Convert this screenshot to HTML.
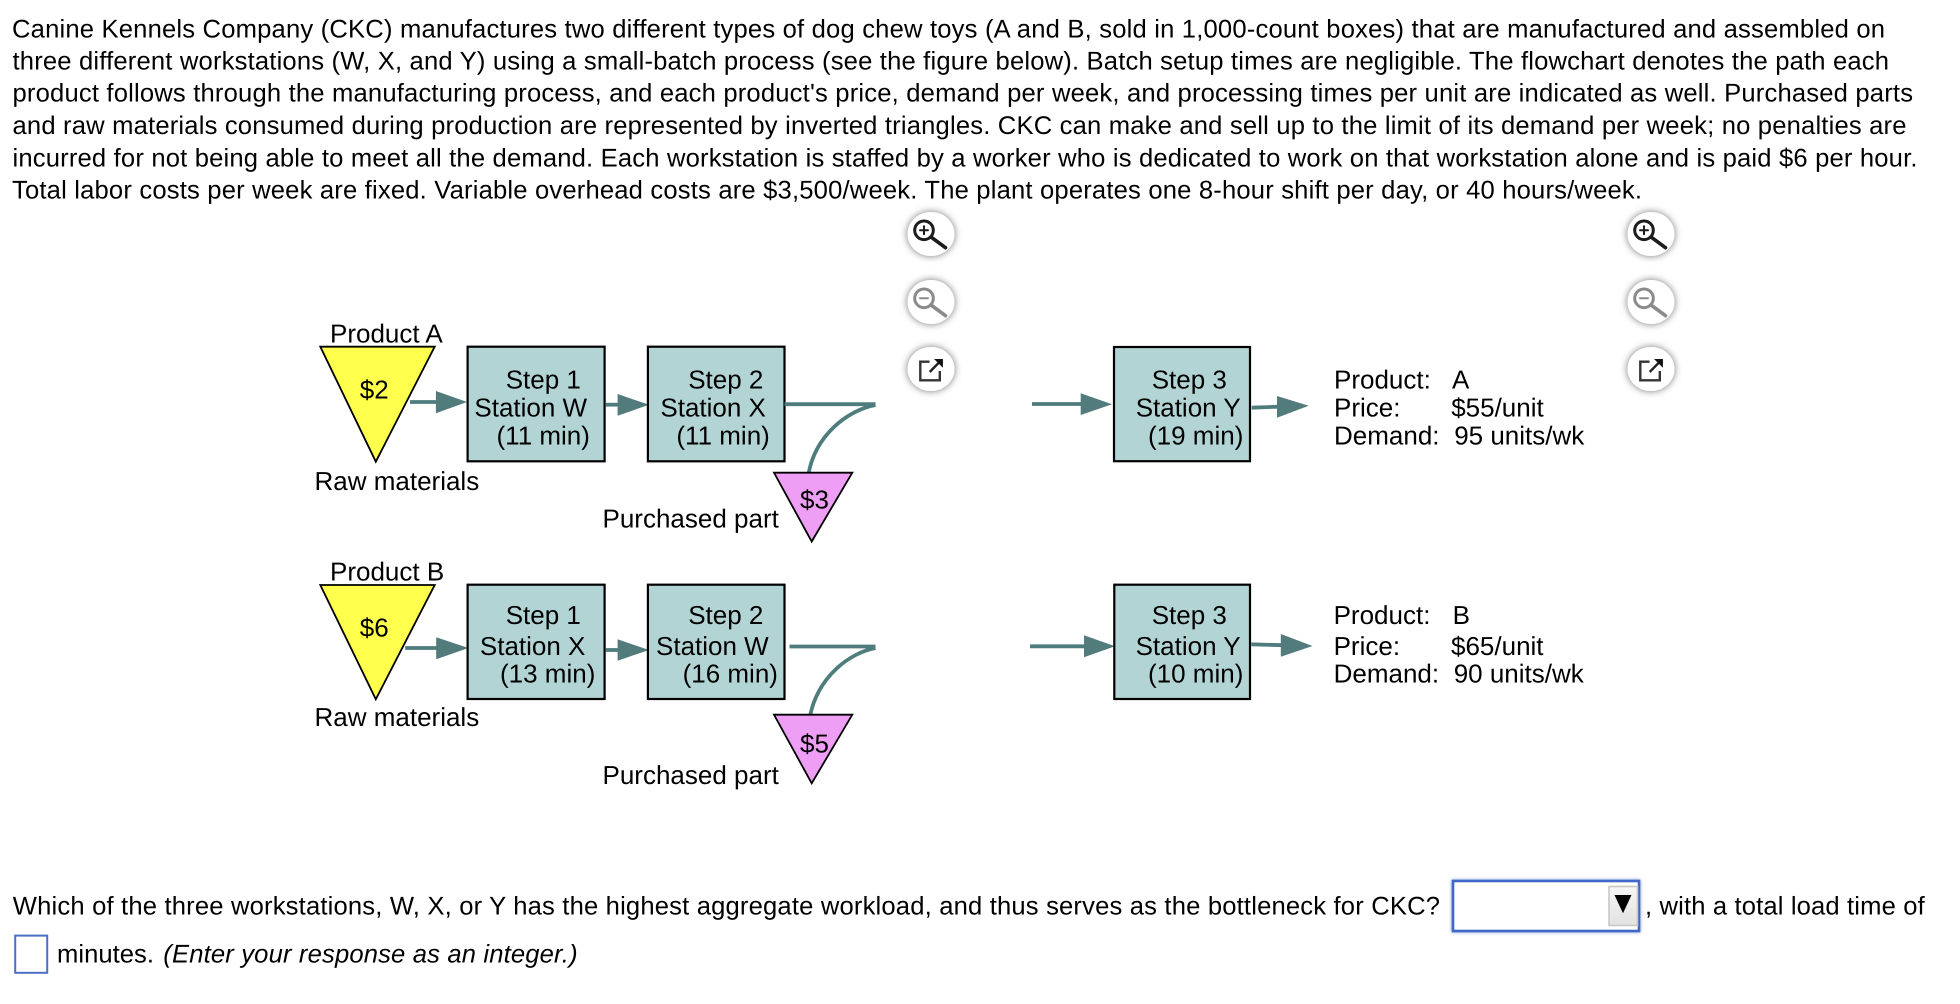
<!DOCTYPE html>
<html><head><meta charset="utf-8"><title>CKC workstation diagram</title>
<style>
html,body{margin:0;padding:0;background:#fff;width:1960px;height:1004px;overflow:hidden}
svg{display:block}
text{font-family:"Liberation Sans",Arial,sans-serif;font-size:25.6px;fill:#000;text-rendering:geometricPrecision}
.d{font-size:26px}
.box{fill:#b2d4d5;stroke:#000;stroke-width:2.2}
.y{fill:#ffff4d;stroke:#000;stroke-width:1.8}
.p{fill:#ee9ff5;stroke:#000;stroke-width:1.8}
.sh{fill:none;stroke:#4f7d7d;stroke-width:3.8}
.hd{fill:#527c7c}
</style></head><body>
<svg width="1960" height="1004" viewBox="0 0 1960 1004" xmlns="http://www.w3.org/2000/svg">
<defs>
<filter id="ds" x="-50%" y="-50%" width="200%" height="200%"><feDropShadow dx="0" dy="0" stdDeviation="3.6" flood-color="#000" flood-opacity=".55"/></filter>
<filter id="gl" x="-10%" y="-30%" width="120%" height="160%"><feDropShadow dx="0" dy="0" stdDeviation="1.6" flood-color="#4267c7" flood-opacity=".7"/></filter>
<linearGradient id="btn" x1="0" y1="0" x2="0" y2="1"><stop offset="0" stop-color="#f6f6f6"/><stop offset="1" stop-color="#e2e2e2"/></linearGradient>
<g id="ip"><ellipse rx="23.5" ry="22" fill="#fff" filter="url(#ds)"/><g fill="none" stroke="#1c1c1c" stroke-linecap="round"><circle cx="-7" cy="-3.7" r="9.3" stroke-width="3"/><path d="M0 3 14.5 13.7" stroke-width="3.6"/><path d="M-11-3.7H-3M-7-7.7V.3" stroke-width="2"/></g></g>
<g id="im"><ellipse rx="23.5" ry="22" fill="#fff" filter="url(#ds)"/><g fill="none" stroke="#8a8a8a" stroke-linecap="round"><circle cx="-7" cy="-3.7" r="9.3" stroke-width="3"/><path d="M0 3 14.5 13.7" stroke-width="3.6"/><path d="M-11-3.7H-3" stroke-width="2"/></g></g>
<g id="ie"><ellipse rx="23.5" ry="22" fill="#fff" filter="url(#ds)"/><path d="M-1.5-7.3H-10.7V11.3H8.8V2" fill="none" stroke="#333" stroke-width="2.4"/><path d="M-1.3 3 8-6.5" fill="none" stroke="#222" stroke-width="2.4"/><path d="M3-10H11.9V-1.2Z" fill="#111"/></g>
</defs>

<text x="12" y="37.3" textLength="1873">Canine Kennels Company (CKC) manufactures two different types of dog chew toys (A and B, sold in 1,000-count boxes) that are manufactured and assembled on</text>
<text x="12.5" y="69.3" textLength="1876.5">three different workstations (W, X, and Y) using a small-batch process (see the figure below). Batch setup times are negligible. The flowchart denotes the path each</text>
<text x="12.5" y="101.7" textLength="1900.5">product follows through the manufacturing process, and each product's price, demand per week, and processing times per unit are indicated as well. Purchased parts</text>
<text x="12.5" y="134" textLength="1894">and raw materials consumed during production are represented by inverted triangles. CKC can make and sell up to the limit of its demand per week; no penalties are</text>
<text x="12.5" y="166.7" textLength="1905">incurred for not being able to meet all the demand. Each workstation is staffed by a worker who is dedicated to work on that workstation alone and is paid $6 per hour.</text>
<text x="12" y="198.7" textLength="1630">Total labor costs per week are fixed. Variable overhead costs are $3,500/week. The plant operates one 8-hour shift per day, or 40 hours/week.</text>

<use href="#ip" x="931" y="234"/><use href="#im" x="931" y="302"/><use href="#ie" x="931" y="369"/>
<use href="#ip" x="1651" y="234"/><use href="#im" x="1651" y="302"/><use href="#ie" x="1651" y="369"/>

<!-- Product A -->
<text class="d" x="330" y="342.7">Product A</text>
<polygon class="y" points="320.3,346.7 434.7,346.7 375.8,461.7"/>
<text class="d" x="359.8" y="398.7">$2</text>
<path class="sh" d="M410 402H437"/><polygon class="hd" points="435.9,391 467,402 435.9,413.3"/>
<rect class="box" x="467.6" y="346.7" width="137" height="114.6"/>
<text class="d" x="505.7" y="388.3">Step 1</text>
<text class="d" x="474.4" y="416.7">Station W</text>
<text class="d" x="496.5" y="444.3">(11 min)</text>
<path class="sh" d="M605.6 404.7H619"/><polygon class="hd" points="617.6,394 649,404.8 617.6,415.7"/>
<rect class="box" x="647.9" y="346.7" width="136.6" height="114.6"/>
<text class="d" x="688.2" y="388.3">Step 2</text>
<text class="d" x="660.4" y="416.7">Station X</text>
<text class="d" x="676.4" y="444.3">(11 min)</text>
<path class="sh" d="M784.5 404.2H875.5M875.5 405C848 410 815 435 808.3 475"/>
<polygon class="p" points="774,472.7 852.3,472.7 811.7,541.5"/>
<text class="d" x="800" y="508.3">$3</text>
<text class="d" x="602.5" y="527.3">Purchased part</text>
<text class="d" x="314.5" y="490">Raw materials</text>
<path class="sh" d="M1032 404H1083"/><polygon class="hd" points="1080.7,393.3 1112,404.2 1080.7,415"/>
<rect class="box" x="1114" y="347" width="136" height="114.2"/>
<text class="d" x="1151.7" y="388.3">Step 3</text>
<text class="d" x="1135.7" y="416.7">Station Y</text>
<text class="d" x="1148" y="444.3">(19 min)</text>
<path class="sh" d="M1251.7 407.7 1279 406.7"/><polygon class="hd" points="1277,396 1308.7,405.8 1277,417.7"/>
<text class="d" x="1334" y="388.3">Product:</text><text class="d" x="1452" y="388.3">A</text>
<text class="d" x="1334" y="416.7">Price:</text><text class="d" x="1451.2" y="416.7">$55/unit</text>
<text class="d" x="1334" y="444.3">Demand:</text><text class="d" x="1454.2" y="444.3">95 units/wk</text>

<!-- Product B -->
<text class="d" x="330" y="580.7">Product B</text>
<polygon class="y" points="320.3,585 434.7,585 375.8,699.3"/>
<text class="d" x="359.8" y="636.6">$6</text>
<path class="sh" d="M405.2 648H438"/><polygon class="hd" points="436.2,637.3 468.4,648 436.2,659.3"/>
<rect class="box" x="467.6" y="584.7" width="137" height="114.3"/>
<text class="d" x="505.7" y="624">Step 1</text>
<text class="d" x="479.9" y="655">Station X</text>
<text class="d" x="500" y="682.3">(13 min)</text>
<path class="sh" d="M605.6 650H619"/><polygon class="hd" points="617.6,639.3 649,650 617.6,660.7"/>
<rect class="box" x="647.9" y="584.7" width="136.6" height="114.3"/>
<text class="d" x="688.2" y="624">Step 2</text>
<text class="d" x="656" y="655">Station W</text>
<text class="d" x="682.6" y="682.3">(16 min)</text>
<path class="sh" d="M789.5 646.5H875.5M875.5 648C849 653 818 677 810 716"/>
<polygon class="p" points="774,714.7 852.3,714.7 811.7,783.3"/>
<text class="d" x="800" y="752.7">$5</text>
<text class="d" x="602.5" y="783.8">Purchased part</text>
<text class="d" x="314.5" y="726.2">Raw materials</text>
<path class="sh" d="M1030 646.3H1086"/><polygon class="hd" points="1084,635.3 1115,646.3 1084,657.3"/>
<rect class="box" x="1114.3" y="584.7" width="135.7" height="114.3"/>
<text class="d" x="1151.7" y="624">Step 3</text>
<text class="d" x="1135.6" y="655">Station Y</text>
<text class="d" x="1148" y="682.3">(10 min)</text>
<path class="sh" d="M1251.3 644.3 1283 645.2"/><polygon class="hd" points="1280.8,634 1312.5,646 1280.8,656.7"/>
<text class="d" x="1333.6" y="624">Product:</text><text class="d" x="1452.6" y="624">B</text>
<text class="d" x="1333.6" y="655">Price:</text><text class="d" x="1451" y="655">$65/unit</text>
<text class="d" x="1333.6" y="682.3">Demand:</text><text class="d" x="1453.7" y="682.3">90 units/wk</text>

<!-- Question -->
<text x="12.8" y="914.7" textLength="1427.2">Which of the three workstations, W, X, or Y has the highest aggregate workload, and thus serves as the bottleneck for CKC?</text>
<rect x="1453" y="881" width="186" height="50" fill="#fff" stroke="#4267c7" stroke-width="2.6" filter="url(#gl)"/>
<rect x="1609" y="886.5" width="28.5" height="39" fill="url(#btn)" stroke="#c8c8c8" stroke-width="1.6"/>
<polygon points="1614.5,895 1631.5,895 1623,913.3" fill="#000"/>
<text x="1645" y="914.7" textLength="279.7">, with a total load time of</text>
<rect x="15.2" y="935.6" width="32" height="37.2" fill="#fff" stroke="#4a6fc4" stroke-width="2"/>
<text x="57" y="962.7" textLength="97">minutes.</text>
<text x="163.3" y="962.7" textLength="414.3" font-style="italic">(Enter your response as an integer.)</text>
</svg>
</body></html>
